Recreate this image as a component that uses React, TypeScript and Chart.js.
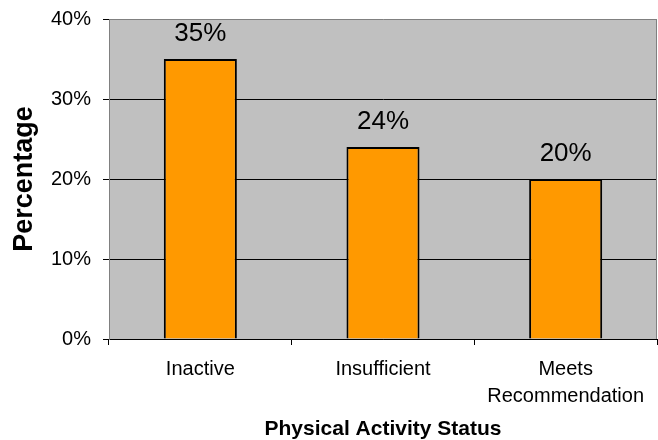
import React, { useEffect, useRef } from "react";
import { Chart, registerables } from "chart.js";

Chart.register(...registerables);

const categories: (string | string[])[] = ["Inactive", "Insufficient", ["Meets", "Recommendation"]];
const values: number[] = [35, 24, 20];
const yTicks: number[] = [0, 10, 20, 30, 40];
const dataLabels: string[] = ["35%", "24%", "20%"];
const yTitle = "Percentage";
const xTitle = "Physical Activity Status";

const FONT = '"Liberation Sans", Arial, Helvetica, sans-serif';

const plotBg = {
  id: "plotBg",
  beforeDraw(chart: any) {
    const { ctx, chartArea } = chart;
    ctx.save();
    ctx.fillStyle = "#C0C0C0";
    ctx.fillRect(chartArea.left, chartArea.top, chartArea.right - chartArea.left, chartArea.bottom - chartArea.top);
    ctx.restore();
  },
  afterDraw(chart: any) {
    const { ctx, chartArea } = chart;
    ctx.save();
    ctx.strokeStyle = "#808080";
    ctx.lineWidth = 1;
    ctx.beginPath();
    ctx.moveTo(chartArea.right - 0.5, chartArea.top);
    ctx.lineTo(chartArea.right - 0.5, chartArea.bottom);
    ctx.stroke();
    ctx.restore();
  },
};

const barLabels = {
  id: "barLabels",
  afterDatasetsDraw(chart: any) {
    const { ctx } = chart;
    const meta = chart.getDatasetMeta(0);
    ctx.save();
    ctx.fillStyle = "#000";
    ctx.font = `26px ${FONT}`;
    ctx.textAlign = "center";
    ctx.textBaseline = "alphabetic";
    meta.data.forEach((bar: any, i: number) => {
      ctx.fillText(dataLabels[i], bar.x, bar.y - 18);
    });
    ctx.restore();
  },
};

export default function App() {
  const ref = useRef<HTMLCanvasElement | null>(null);
  useEffect(() => {
    if (!ref.current) return;
    const chart = new Chart(ref.current, {
      type: "bar",
      data: {
        labels: categories,
        datasets: [
          {
            data: values,
            backgroundColor: "#FF9900",
            borderColor: "#000",
            borderWidth: 2,
            barPercentage: 0.4,
            categoryPercentage: 1,
          },
        ],
      },
      options: {
        responsive: false,
        animation: false,
        layout: { padding: { top: 19, right: 1, left: 0, bottom: 0 } },
        plugins: {
          legend: { display: false },
          tooltip: { enabled: false },
        },
        scales: {
          x: {
            offset: true,
            grid: {
              offset: true,
              drawOnChartArea: false,
              drawTicks: true,
              tickLength: 6,
              color: "#000",
              tickColor: "#000",
            },
            border: { color: "#000", width: 1 },
            ticks: {
              color: "#000",
              font: { family: FONT, size: 20, lineHeight: 1.35 },
              padding: 11,
              maxRotation: 0,
              autoSkip: false,
            },
            title: {
              display: true,
              text: xTitle,
              color: "#000",
              font: { family: FONT, size: 21, weight: "bold", lineHeight: 1 },
              padding: { top: 0, bottom: 0 },
            },
            afterFit: (s: any) => {
              s.height = 101;
              s.paddingLeft = 0;
              s.paddingRight = 0;
            },
          },
          y: {
            min: 0,
            max: 40,
            afterBuildTicks: (s: any) => {
              s.ticks = yTicks.map((v) => ({ value: v }));
            },
            grid: {
              drawTicks: true,
              tickLength: 6,
              color: (c: any) => (c.tick && c.tick.value === 40 ? "#808080" : "#000"),
              tickColor: "#000",
            },
            border: { color: "#808080", width: 1 },
            ticks: {
              color: "#000",
              font: { family: FONT, size: 20 },
              padding: 12,
              callback: (v: any) => `${v}%`,
            },
            title: {
              display: true,
              text: yTitle,
              color: "#000",
              font: { family: FONT, size: 27, weight: "bold", lineHeight: 1 },
              padding: { top: 11, bottom: 0 },
            },
            afterFit: (s: any) => {
              s.width = 109;
              s.paddingTop = 0;
              s.paddingBottom = 0;
            },
          },
        },
      },
      plugins: [plotBg, barLabels],
    });
    return () => chart.destroy();
  }, []);
  return (
    <div style={{ position: "fixed", left: 0, top: 0, width: 658, height: 440, background: "#fff" }}>
      <canvas ref={ref} width={658} height={440} style={{ width: 658, height: 440 }} />
    </div>
  );
}
